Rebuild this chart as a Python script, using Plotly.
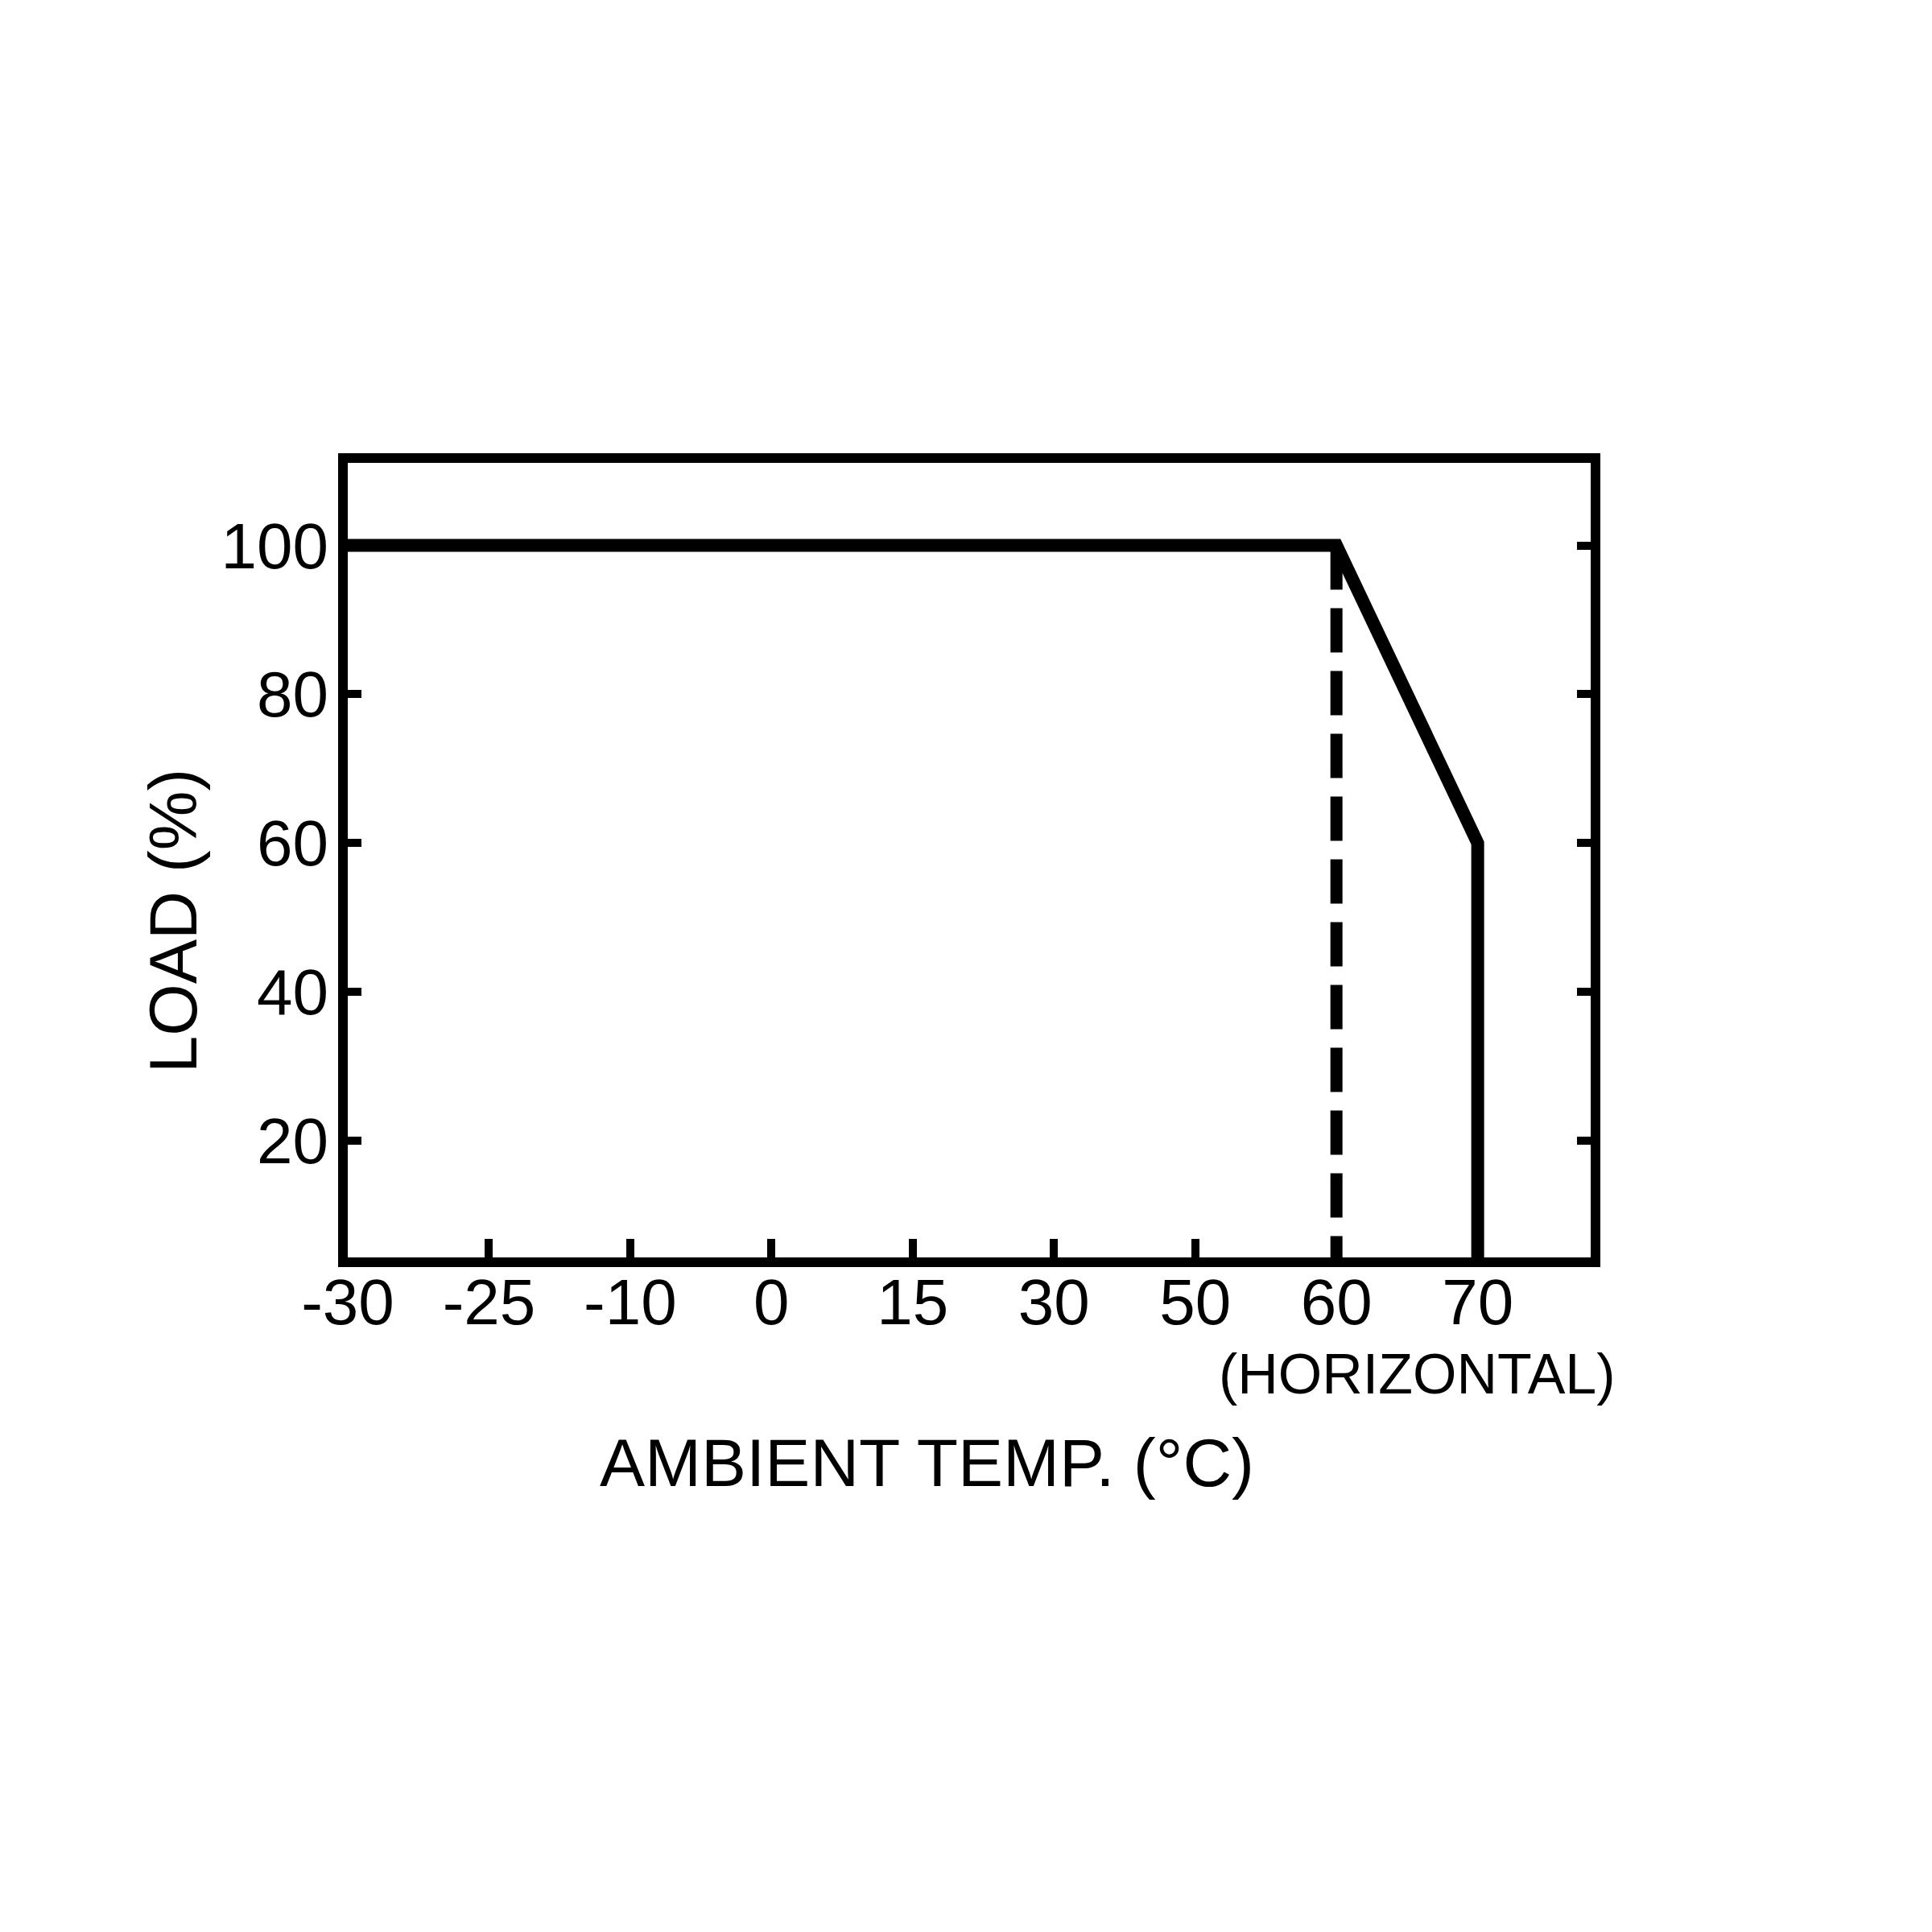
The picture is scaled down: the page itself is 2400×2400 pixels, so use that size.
import plotly.graph_objects as go

# ---- data ----
temp_ticks = ["-30", "-25", "-10", "0", "15", "30", "50", "60", "70"]
load_ticks = [20, 40, 60, 80, 100]

curve_temp = ["-30", "60", "70", "70"]
curve_load = [100, 100, 60, 0]

dash_temp = ["60", "60"]
dash_load = [100, 0]

FONT = "Liberation Sans, Arial, Helvetica, sans-serif"
OFF = 8  # default page body margin

fig = go.Figure()
fig.add_trace(go.Scatter(x=dash_temp, y=dash_load, mode="lines",
                         line=dict(color="black", width=15, dash="55px,23px"),
                         showlegend=False, hoverinfo="skip"))
fig.add_trace(go.Scatter(x=curve_temp, y=curve_load, mode="lines",
                         line=dict(color="black", width=16),
                         showlegend=False, hoverinfo="skip"))

# plot area in screenshot pixels
L, R, T, B = 432, 1976, 575, 1562
W = R - L
H = B - T

def px(x):
    return (x - L) / W

def py(y):
    return (B - y) / H

fig.update_layout(
    width=2400, height=2400, autosize=False,
    margin=dict(l=L - OFF, r=2400 + OFF - R, t=T - OFF, b=2400 + OFF - B, pad=0),
    paper_bgcolor="white", plot_bgcolor="white",
    font=dict(family=FONT, color="black", size=80),
    xaxis=dict(type="category", categoryorder="array", categoryarray=temp_ticks,
               tickvals=temp_ticks, ticktext=temp_ticks,
               range=[0, 8.80], showgrid=False, zeroline=False,
               showline=True, linecolor="black", linewidth=12, mirror=True,
               ticks="inside", ticklen=23, tickwidth=10, tickcolor="black",
               ticklabelstandoff=-25,
               tickfont=dict(size=80, family=FONT, color="black")),
    yaxis=dict(range=[4.3, 111.1], tickvals=load_ticks,
               ticktext=[str(v) for v in load_ticks],
               showgrid=False, zeroline=False,
               showline=True, linecolor="black", linewidth=12, mirror="ticks",
               ticks="inside", ticklen=17, tickwidth=10, tickcolor="black",
               ticklabelstandoff=-4,
               tickfont=dict(size=80, family=FONT, color="black")),
    annotations=[
        dict(text="AMBIENT TEMP. (°C)", xref="paper", yref="paper",
             x=px(1151), y=py(1817), xanchor="center", yanchor="middle",
             showarrow=False, font=dict(size=84, family=FONT, color="black")),
        dict(text="LOAD (%)", xref="paper", yref="paper",
             x=px(215), y=py(1144), xanchor="center", yanchor="middle",
             textangle=-90,
             showarrow=False, font=dict(size=83, family=FONT, color="black")),
        dict(text="(HORIZONTAL)", xref="paper", yref="paper",
             x=px(1760), y=py(1707), xanchor="center", yanchor="middle",
             showarrow=False, font=dict(size=70, family=FONT, color="black")),
    ],
)

fig.write_html("out.html")
